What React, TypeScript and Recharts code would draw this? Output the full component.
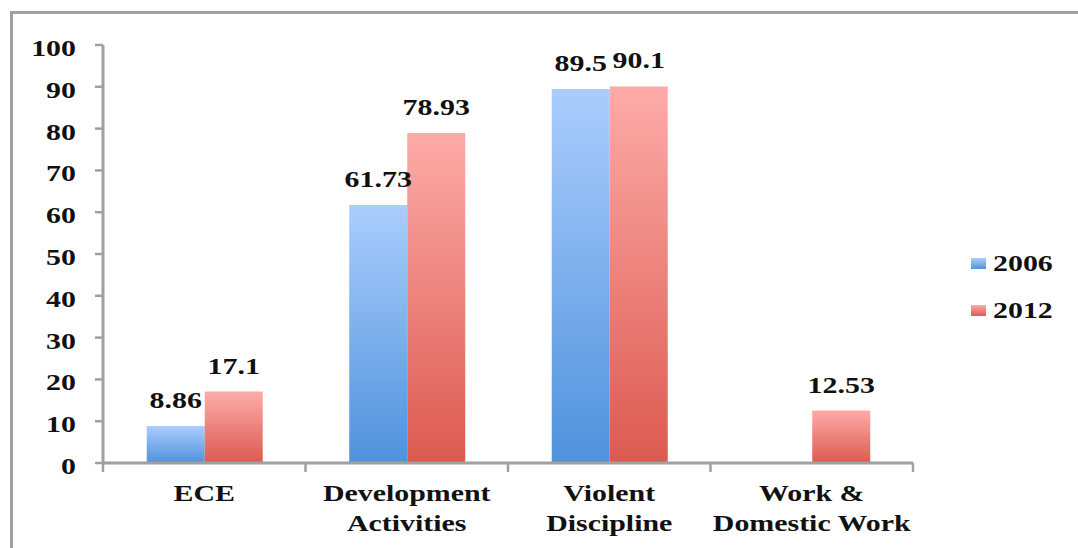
import React from 'react'
import { BarChart, Bar, XAxis, YAxis, LabelList } from 'recharts'

const categories = ['ECE', 'Development\nActivities', 'Violent\nDiscipline', 'Work &\nDomestic Work']
const values2006: (number | null)[] = [8.86, 61.73, 89.5, null]
const values2012: (number | null)[] = [17.1, 78.93, 90.1, 12.53]
const yTicks = [0, 10, 20, 30, 40, 50, 60, 70, 80, 90, 100]

const series = [
  { key: 'y2006', name: '2006', values: values2006, top: '#abcdfd', bottom: '#4f92dc' },
  { key: 'y2012', name: '2012', values: values2012, top: '#fdaba8', bottom: '#dc5a50' },
]

const data = categories.map((c, i) => ({
  category: c,
  y2006: values2006[i],
  y2012: values2012[i],
}))

const W = 1078
const H = 548
const FONT = '"Liberation Serif", "Times New Roman", serif'
const STRETCH = 1.3
const AXIS = '#a0a0a0'

// bold serif text widened horizontally around its anchor point
function SText({ x, y, anchor = 'middle', children }: any) {
  return (
    <text
      x={x}
      y={y}
      textAnchor={anchor}
      fontFamily={FONT}
      fontWeight="bold"
      fontSize={23}
      fill="#111"
      transform={`translate(${x} ${y}) scale(${STRETCH} 1) translate(${-x} ${-y})`}
    >
      {children}
    </text>
  )
}

const YTick = ({ x, y, payload }: any) => (
  <SText x={x} y={y + 11} anchor="end">{payload.value}</SText>
)

const PLOT_W = 913 - 103

const XTick = ({ x, y, payload, index }: any) => {
  const half = payload.offset || PLOT_W / categories.length / 2
  const axisY = y - 8
  const lines = String(payload.value).split('\n')
  return (
    <g>
      <line x1={x - half} x2={x - half} y1={axisY} y2={axisY + 9} stroke={AXIS} strokeWidth={2.5} />
      {index === categories.length - 1 && (
        <line x1={x + half} x2={x + half} y1={axisY} y2={axisY + 9} stroke={AXIS} strokeWidth={2.5} />
      )}
      {lines.map((l, i) => (
        <SText key={i} x={x} y={axisY + 38 + i * 30}>{l}</SText>
      ))}
    </g>
  )
}

const ValueLabel = ({ x, y, width, value }: any) => {
  if (value == null) return null
  return <SText x={x + width / 2} y={y - 18}>{value}</SText>
}

export default function App() {
  return (
    <div style={{ position: 'absolute', left: 0, top: 0, width: W, height: H, overflow: 'hidden', background: '#fff' }}>
      <div
        style={{
          position: 'absolute', left: 10, top: 11, width: 1200, height: 700,
          border: `3px solid ${AXIS}`,
        }}
      />
      <div style={{ position: 'absolute', left: 0, top: 0 }}>
        <BarChart
          width={W}
          height={H}
          data={data}
          margin={{ top: 45, right: 165, bottom: 5, left: 0 }}
          barCategoryGap="21.6%"
          barGap={0}
        >
          <defs>
            {series.map(s => (
              <linearGradient key={s.key} id={`grad-${s.key}`} x1="0" y1="0" x2="0" y2="1">
                <stop offset="0%" stopColor={s.top} />
                <stop offset="100%" stopColor={s.bottom} />
              </linearGradient>
            ))}
          </defs>
          <XAxis
            dataKey="category"
            height={80}
            axisLine={{ stroke: AXIS, strokeWidth: 3 }}
            tickLine={false}
            tickSize={8}
            tickMargin={0}
            interval={0}
            tick={<XTick />}
          />
          <YAxis
            domain={[0, 100]}
            ticks={yTicks}
            width={103}
            axisLine={{ stroke: AXIS, strokeWidth: 3 }}
            tickLine={{ stroke: AXIS, strokeWidth: 2.5 }}
            tickSize={8}
            tickMargin={19}
            interval={0}
            tick={<YTick />}
          />
          {series.map(s => (
            <Bar key={s.key} dataKey={s.key} name={s.name} fill={`url(#grad-${s.key})`} isAnimationActive={false}>
              <LabelList dataKey={s.key} content={<ValueLabel />} />
            </Bar>
          ))}
        </BarChart>
      </div>
      {series.map((s, i) => (
        <div
          key={s.key}
          style={{ position: 'absolute', left: 971, top: 252 + i * 47, display: 'flex', alignItems: 'center' }}
        >
          <span
            style={{
              display: 'inline-block', width: 15, height: 11, marginRight: 7,
              background: `linear-gradient(${s.top}, ${s.bottom})`,
            }}
          />
          <span
            style={{
              fontFamily: FONT, fontWeight: 'bold', fontSize: 23, color: '#111',
              display: 'inline-block', transform: `scaleX(${STRETCH})`, transformOrigin: 'left center',
              lineHeight: '23px',
            }}
          >
            {s.name}
          </span>
        </div>
      ))}
    </div>
  )
}
